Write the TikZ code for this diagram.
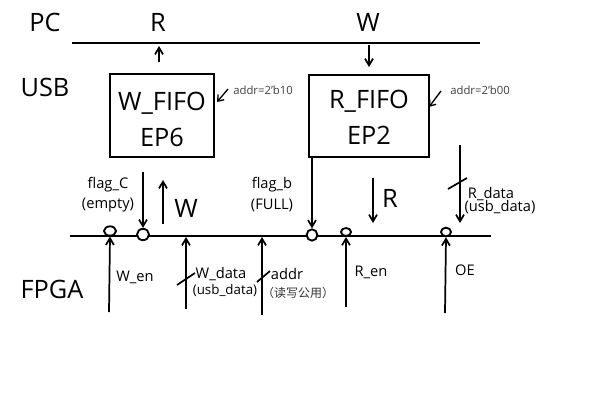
\documentclass[tikz,border=0pt]{standalone}
\usepackage{fontspec}
\setmainfont{Open Sans}
\newfontfamily\cjk{Noto Sans CJK SC}
\usetikzlibrary{arrows.meta,shapes.geometric}
\begin{document}
\begin{tikzpicture}[x=0.75pt,y=-0.75pt,
  ln/.style={line width=1.5pt},
  arr/.style={line width=1.3pt,-{Straight Barb[length=5pt,width=6pt]}},
  sarr/.style={line width=1pt,-{Straight Barb[length=4pt,width=6pt]}},
  big/.style={font=\fontsize{19}{22}\selectfont, inner sep=0pt},
  mid/.style={font=\fontsize{11}{13}\selectfont, inner sep=0pt},
  sml/.style={font=\fontsize{10}{12}\selectfont, inner sep=0pt},
  tiny/.style={font=\fontsize{8.5}{10}\selectfont, inner sep=0pt, text=black!75},
  fifo/.style={draw, line width=1.3pt, inner sep=0pt},
  ring/.style={draw, ellipse, line width=1.4pt, minimum width=7.5pt, minimum height=6pt, inner sep=0pt, fill=white},
  slash/.style={line width=1.3pt}]
\useasboundingbox (0,0) rectangle (600,400);

% labels left
\node[big] (pc) at (45,22) {PC};
\node[big] (usb) at (45,87) {USB};
\node[big] (fpga) at (52,289) {FPGA};
\node[big] (rtop) at (158,22) {R};
\node[big] (wtop) at (368,22) {W};

% top bus
\coordinate (tl) at (72,43);
\coordinate (tr) at (480,43);
\draw[ln] (tl) -- (tr);

% FIFO boxes
\node[fifo, minimum width=78pt, minimum height=62.25pt] (wf) at (162,115.5) {};
\node[big] (wft) at (162,103) {W\_FIFO};
\node[big] (wfe) at (162,137) {EP6};
\node[fifo, minimum width=90pt, minimum height=61.5pt] (rf) at (369,116) {};
\node[big] (rft) at (369,101) {R\_FIFO};
\node[big] (rfe) at (369,135) {EP2};

% arrows between bus and boxes
\coordinate (ra0) at (159,62);
\coordinate (ra1) at (159,46);
\draw[arr] (ra0) -- (ra1);
\coordinate (wa0) at (369,45);
\coordinate (wa1) at (369,67);
\draw[arr] (wa0) -- (wa1);

% addr labels
\node[tiny, anchor=west] (addr1) at (233,90) {addr=2'b10};
\coordinate (ad1s) at (228,89);
\coordinate (ad1e) at (217,102);
\draw[sarr] (ad1s) -- (ad1e);
\node[tiny, anchor=west] (addr0) at (450,90) {addr=2'b00};
\coordinate (ad0s) at (441,91);
\coordinate (ad0e) at (429,107);
\draw[sarr] (ad0s) -- (ad0e);

% bottom bus
\coordinate (bl) at (70,236);
\coordinate (br) at (491,236);
\draw[ln] (bl) -- (br);

% rings
\node[ring, minimum width=9pt, minimum height=7pt] (c1) at (110,231) {};
\node[ring, minimum width=9pt, minimum height=8.5pt] (c2) at (143,234.5) {};
\node[ring, minimum width=8pt, minimum height=8.5pt] (c3) at (312,235) {};
\node[ring, minimum width=7.5pt, minimum height=6pt] (c4) at (346,232) {};
\node[ring, minimum width=7.5pt, minimum height=6.5pt] (c5) at (446,232) {};

% flag_C
\coordinate (fc0) at (143,172);
\draw[arr] (fc0) -- (c2.north);
\node[mid] (flagc) at (108,185) {flag\_C};
\node[mid] (empty) at (108,205) {(empty)};

% W arrow up
\coordinate (wu0) at (163,224);
\coordinate (wu1) at (163,180);
\draw[arr] (wu0) -- (wu1);
\node[big] (wmid) at (186,208) {W};

% flag_b
\draw[arr] (rf.south -| c3) -- (c3.north);
\node[mid] (flagb) at (272,185) {flag\_b};
\node[mid] (full) at (272,205) {(FULL)};

% R arrow down
\coordinate (rd0) at (373,178);
\coordinate (rd1) at (373,223);
\draw[arr] (rd0) -- (rd1);
\node[big] (rmid) at (390,198) {R};

% R_data
\coordinate (rdd0) at (460,145);
\coordinate (rdd1) at (460,223);
\draw[arr] (rdd0) -- (rdd1);
\coordinate (rs0) at (448,189);
\coordinate (rs1) at (467,178);
\draw[slash] (rs0) -- (rs1);
\node[mid] (rdata) at (491,194) {R\_data};
\node[mid] (rusb) at (500,207) {(usb\_data)};

% W_en
\coordinate (we0) at (109,312);
\draw[arr] (we0) -- (c1.south);
\node[mid] (wen) at (135,277) {W\_en};

% W_data
\coordinate (wd0) at (186,309);
\coordinate (wd1) at (186,237);
\draw[arr] (wd0) -- (wd1);
\coordinate (ws0) at (177,285);
\coordinate (ws1) at (195,273);
\draw[slash] (ws0) -- (ws1);
\node[mid] (wdata) at (221,274) {W\_data};
\node[sml] (wusb) at (225,290) {(usb\_data)};

% addr
\coordinate (a0) at (262,315);
\coordinate (a1) at (262,237);
\draw[arr] (a0) -- (a1);
\coordinate (as0) at (257,282);
\coordinate (as1) at (270,271);
\draw[slash] (as0) -- (as1);
\node[mid] (addr) at (287,274) {addr};
\node[inner sep=0pt, font=\fontsize{9}{11}\selectfont, text=black!80] (rw) at (298,293) {\cjk （读写公用）};

% R_en
\coordinate (re0) at (346,307);
\draw[arr] (re0) -- (c4.south);
\node[mid] (ren) at (371,272) {R\_en};

% OE
\coordinate (oe0) at (445,313);
\draw[arr] (oe0) -- (c5.south);
\node[mid] (oe) at (465,270) {OE};

\end{tikzpicture}
\end{document}
